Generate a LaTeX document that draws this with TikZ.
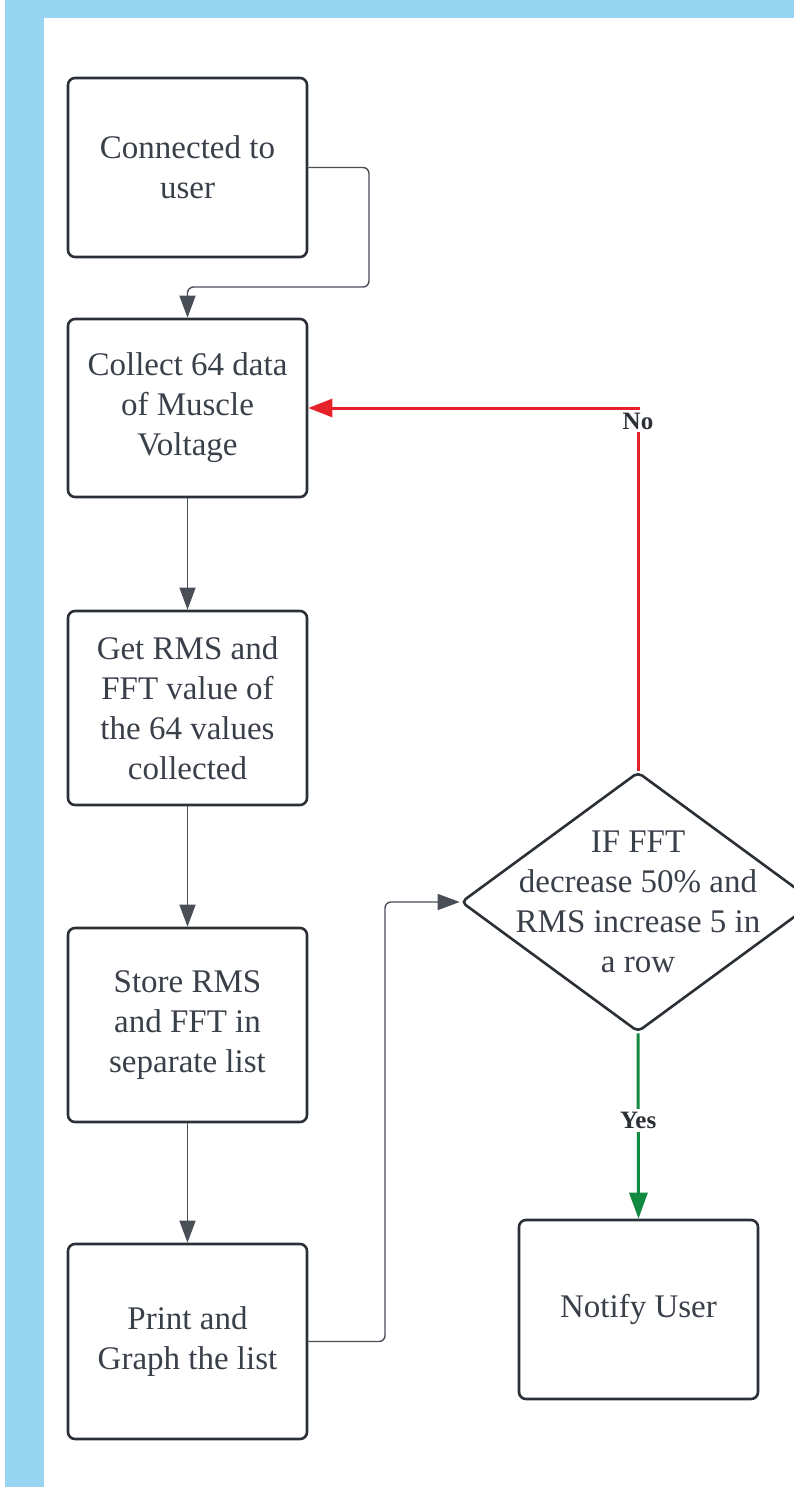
\documentclass[tikz,border=0pt]{standalone}
\usepackage{fontspec}
\setmainfont{Liberation Serif}
\usepackage{tikz}
\usetikzlibrary{shapes,arrows,arrows.meta}
\usetikzlibrary{positioning}

\definecolor{bandblue}{HTML}{97D5F0}
\definecolor{boxline}{HTML}{2B2F36}
\definecolor{txt}{HTML}{3A404A}
\definecolor{linkgray}{HTML}{4A4F57}
\definecolor{nored}{HTML}{E5212A}
\definecolor{yesgreen}{HTML}{11893F}

\begin{document}
\begin{tikzpicture}[
    x=1pt, y=-1pt,
every node/.style = {inner sep=2pt},
    box/.style = {draw=boxline, line width=2.6pt, rounded corners=7pt,
                  minimum width=239pt, align=center, text=txt,
                  font=\fontsize{33}{40}\selectfont},
    decision/.style = {diamond, draw=boxline, line width=2.6pt,
                  rounded corners=5pt, inner sep=0pt,
                  minimum width=354pt, minimum height=260pt},
    dectext/.style = {align=center, text=txt, font=\fontsize{33}{40}\selectfont},
    link/.style = {draw=linkgray, line width=1.4pt, rounded corners=6pt,
                  -{Triangle[length=22pt,width=16pt]}},
    nolink/.style = {draw=nored, line width=3pt,
                  -{Triangle[length=24pt,width=18pt]}},
    yeslink/.style = {draw=yesgreen, line width=3pt,
                  -{Triangle[length=26pt,width=18pt]}},
    lbl/.style = {fill=white, text=boxline, inner sep=3pt,
                  font=\bfseries\fontsize{25}{28}\selectfont}]
\useasboundingbox (0,0) rectangle (794,1487);

% frame band
\fill[bandblue] (5,0) rectangle (794,18);
\fill[bandblue] (5,0) rectangle (44,1487);

% steps
\node[box, minimum height=179pt] (conn)    at (187.5,167.5) {Connected to\\user};
\node[box, minimum height=178pt] (collect) at (187.5,408)   {Collect 64 data\\of Muscle\\Voltage};
\node[box, minimum height=194pt] (rms)     at (187.5,708)   {Get RMS and\\FFT value of\\the 64 values\\collected};
\node[box, minimum height=194pt] (store)   at (187.5,1025)  {Store RMS\\and FFT in\\separate list};
\node[box, minimum height=195pt] (print)   at (187.5,1341.5){Print and\\Graph the list};
\node[box, minimum height=179pt] (notify)  at (638.5,1309.5){Notify User};

\node[decision] (dec) at (638,902) {};
\node[dectext] (dectxt) at (dec.center) {IF FFT\\decrease 50\% and\\RMS increase 5 in\\a row};

\coordinate (c1) at (369,287);
\coordinate (c2) at (385,902);

\draw[link] (conn.east) -| (c1) -| (collect.north);
\draw[link] (collect) -- (rms);
\draw[link] (rms) -- (store);
\draw[link] (store) -- (print);
\draw[link] (print.east) -| (c2) -- (dec.west);

\draw[nolink] (dec.north) |- node[lbl, pos=0.5, yshift=-13pt] {No} (collect.east);
\draw[yeslink] (dec.south) -- node[lbl, pos=0.47] {Yes} (notify.north);
\end{tikzpicture}
\end{document}
